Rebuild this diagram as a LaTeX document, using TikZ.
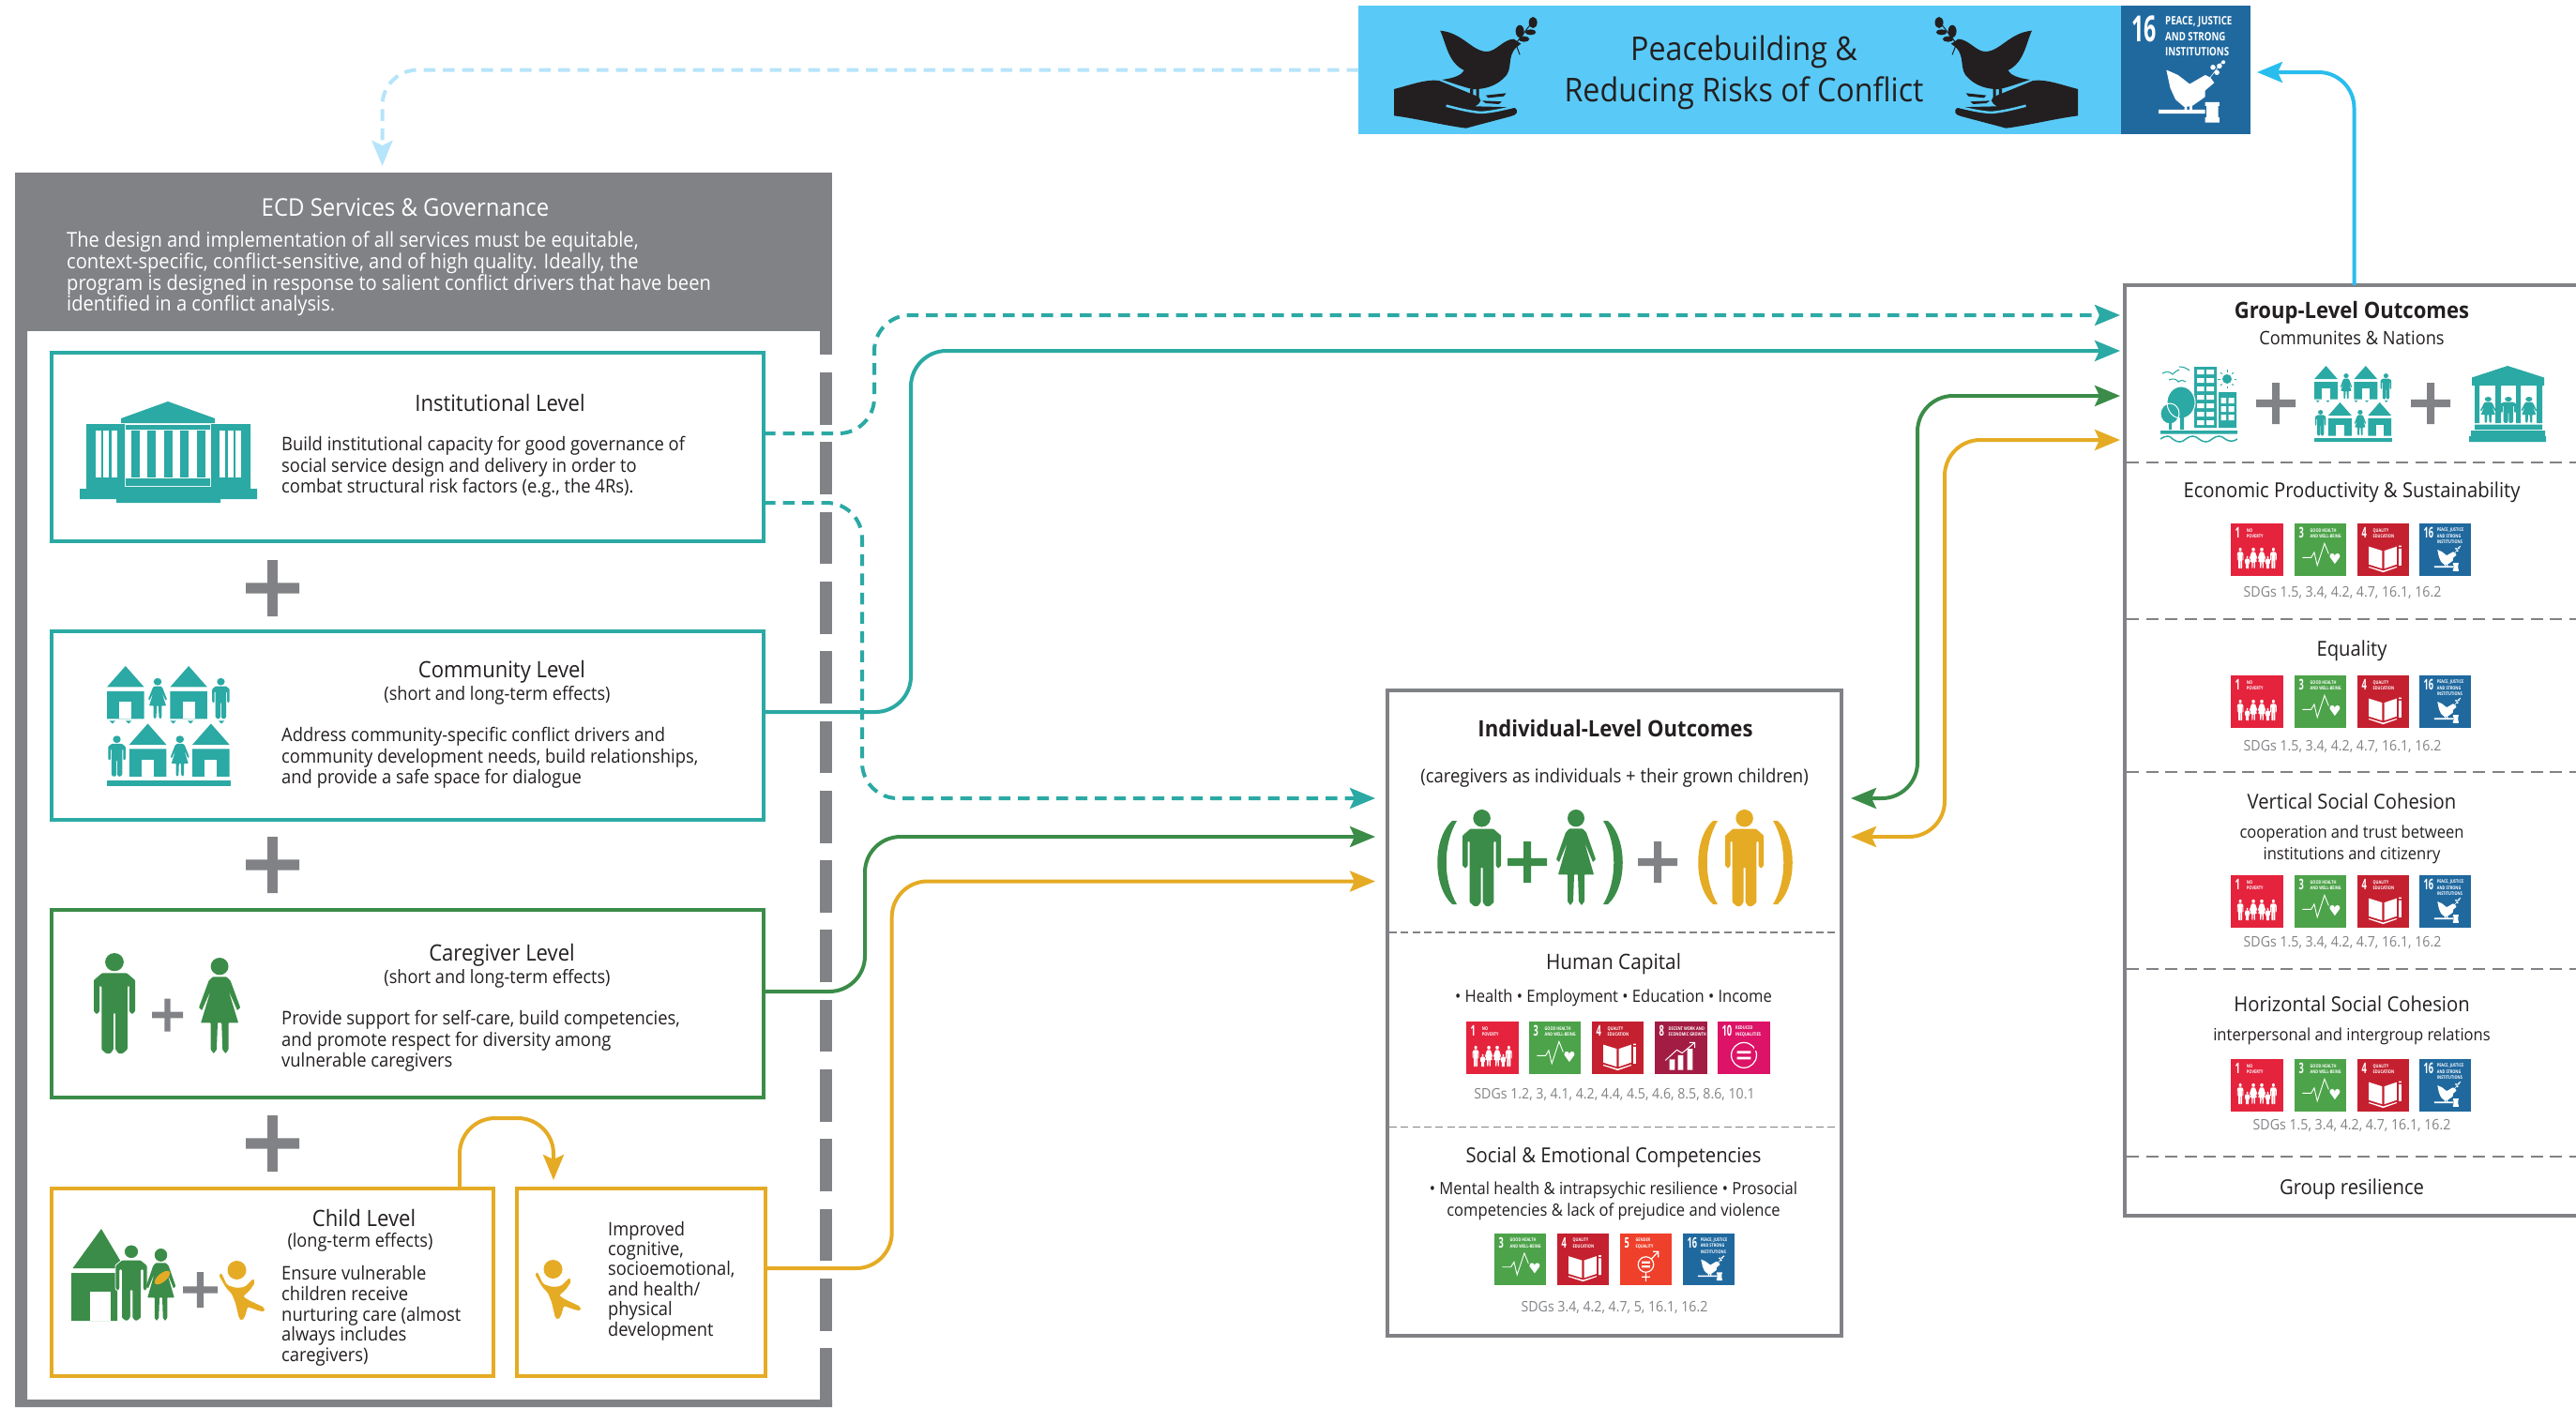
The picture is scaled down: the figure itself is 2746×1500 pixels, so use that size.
\documentclass[tikz,border=0pt]{standalone}
\usepackage{fontspec}
\setmainfont{Open Sans}[FakeStretch=0.92]
\newfontfamily\sdgfont{Open Sans}[FakeStretch=0.6]
\newfontfamily\sdgcapfont{Open Sans}[FakeStretch=0.78]
\usetikzlibrary{arrows.meta,positioning,calc}
\definecolor{ink}{HTML}{231F20}
\definecolor{frame}{HTML}{808285}
\definecolor{tealc}{HTML}{2BA9A4}
\definecolor{greenc}{HTML}{3B8C48}
\definecolor{yellowc}{HTML}{E5AB24}
\definecolor{sky}{HTML}{59CAF7}
\definecolor{skyline}{HTML}{29BDEE}
\definecolor{skypale}{HTML}{B6E4FA}
\definecolor{sdgone}{HTML}{E5233D}
\definecolor{sdgthree}{HTML}{4DA34A}
\definecolor{sdgfour}{HTML}{C5202F}
\definecolor{sdgfive}{HTML}{EF402B}
\definecolor{sdgeight}{HTML}{A21C44}
\definecolor{sdgten}{HTML}{DD1367}
\definecolor{sdgsixteen}{HTML}{20699F}
\tikzset{
 every pic/.style={transform shape},
 pics/man/.style={code={
  \fill[#1] (20,9) circle[radius=9];
  \fill[#1,rounded corners=.8pt] (8,20) -- (32,20) -- (40,27) -- (40,58) -- (37,61) -- (34.5,58) -- (34.5,33) -- (32.5,33) -- (32.5,96) -- (28,100) -- (24,100) -- (21,96) -- (21,60) -- (19,60) -- (19,96) -- (16,100) -- (12,100) -- (7.5,96) -- (7.5,33) -- (5.5,33) -- (5.5,58) -- (3,61) -- (0,58) -- (0,27) -- cycle;
 }},
 pics/woman/.style={code={
  \fill[#1] (22,9) circle[radius=9];
  \fill[#1,rounded corners=.6pt] (15,20) -- (29,20) -- (33,24) -- (43,52) -- (40,55) -- (31,34) -- (41,68) -- (31,68) -- (31,96) -- (28,100) -- (25,96) -- (24,68) -- (20,68) -- (19,96) -- (16,100) -- (13,96) -- (13,68) -- (3,68) -- (13,34) -- (4,55) -- (1,52) -- (11,24) -- cycle;
 }},
 pics/kid/.style={code={
  \fill[#1] (19.5,10) circle[radius=10];
  \fill[#1,rounded corners=2pt] (0,15) -- (3,13) -- (9,26) -- (19,29) -- (28,28) -- (37,19) -- (39,23) -- (33,32) -- (26,38) -- (32,42) -- (49,50) -- (49,54) -- (45,54) -- (31,49) -- (28,60) -- (25,64) -- (22,62) -- (18,45) -- (14,35) -- (8,29) -- cycle;
 }},
 pics/plus/.style={code={
  \fill[#1] (-9.5,-50) rectangle (9.5,50) (-50,-9.5) rectangle (50,9.5);
 }},
 pics/paren/.style={code={
  \fill[#1] (16,0) -- (21,0) .. controls (6,25) and (6,64) .. (21,89) -- (16,89) .. controls (-5,70) and (-5,19) .. (16,0) -- cycle;
 }},
 pics/hut/.style={code={
  \fill[#1] (0,17.5) -- (15,0) -- (30,17.5) -- cycle (0,21) rectangle (30,44);
  \fill[white] (10,44) -- (10,30) -- (20,30) -- (20,44) -- cycle;
 }},
 pics/hamlet/.style={code={
  \pic at (0,0) {hut=#1};
  \pic[xscale=.36,yscale=.34] at (33,10) {woman=#1};
  \pic at (51,0) {hut=#1};
  \pic[xscale=.35,yscale=.34] at (85,10) {man=#1};
  \pic[xscale=.35,yscale=.34] at (1,58) {man=#1};
  \pic at (18,48) {hut=#1};
  \pic[xscale=.36,yscale=.34] at (51,58) {woman=#1};
  \pic at (69,48) {hut=#1};
  \foreach \tx in {2,15,51,65,90} \fill[#1] (\tx,45.5) -- (\tx+5,45.5) -- (\tx+2.5,48) -- cycle;
  \fill[#1] (0,95) rectangle (100,100);
 }},
 pics/dove/.style={code={
  \fill[#1] (212,98) .. controls (250,105) and (265,165) .. (290,165) .. controls (305,165) and (318,125) .. (335,125) -- (347,140) -- (340,150) .. controls (322,180) and (335,225) .. (318,250) .. controls (305,275) and (285,287) .. (265,285) .. controls (245,275) and (232,265) .. (215,255) .. controls (235,250) and (248,240) .. (252,225) .. controls (225,200) and (222,140) .. (212,98) -- cycle;
  \fill[#1] (262,285) rectangle (267,312) (272,285) rectangle (277,312);
  \fill[#1] (135,285) .. controls (165,270) and (190,252) .. (210,258) -- (270,305) .. controls (285,315) and (280,330) .. (270,340) -- (335,343) .. controls (345,355) and (340,368) .. (330,372) -- (255,410) .. controls (215,400) and (175,380) .. (135,370) -- cycle;
  \draw[sky,line width=2.5pt] (222,338) .. controls (245,350) and (265,358) .. (280,360) .. controls (300,358) and (320,348) .. (338,340);
  \fill[#1] (288,305) -- (322,298) -- (318,308) -- (292,313) -- cycle (282,322) -- (315,325) -- (310,333) -- (288,330) -- cycle;
  \draw[#1,line width=1pt] (345,175) -- (338,140) -- (362,80);
  \fill[#1] (345,100) ellipse[x radius=7,y radius=20] (367,72) ellipse[x radius=7,y radius=18] (363,103) circle[radius=9] (352,125) circle[radius=9];
 }},
 pics/tilehead/.style n args={3}{code={
  \fill[#1] (0,0) rectangle (100,100);
  \node[inner sep=0mm, text=white, anchor=west, font=\sdgfont\bfseries\fontsize{28}{28}\selectfont, transform shape] (num) at (8,18) {#2};
  \node[inner sep=0mm, text=white, anchor=west, align=left, font=\sdgcapfont\bfseries\fontsize{9}{12}\selectfont, transform shape] (cap) at (\ifnum#2>9 34\else\ifnum#2=8 26\else 30\fi\fi,\ifnum#2=16 24\else 19\fi) {#3};
 }},
 pics/sdgno/.style={code={
  \pic (head) {tilehead={sdgone}{1}{NO\\POVERTY}};
  \foreach \fx/\fw in {12/.3,75/.3} \pic[xscale=\fw,yscale=.4] at (\fx,46) {man=white};
  \foreach \fx in {35,51} \pic[xscale=.36,yscale=.4] at (\fx,46) {woman=white};
  \foreach \fx in {27,66} \pic[xscale=.22,yscale=.24] at (\fx,62) {man=white};
 }},
 pics/sdghealth/.style={code={
  \pic (head) {tilehead={sdgthree}{3}{GOOD HEALTH\\AND WELL-BEING}};
  \draw[white,line width=.9pt] (15,65) -- (32,65) -- (38,55) -- (44,80) -- (58,38) -- (66,58);
  \fill[white] (73,62) circle[radius=5] (83,62) circle[radius=5] (68.5,64) -- (87.5,64) -- (78,77) -- cycle;
 }},
 pics/sdgedu/.style={code={
  \pic (head) {tilehead={sdgfour}{4}{QUALITY\\EDUCATION}};
  \fill[white] (22,44) -- (48,52) -- (48,86) -- (22,78) -- cycle (52,52) -- (76,44) -- (76,78) -- (52,86) -- cycle (22,82) -- (50,90) -- (76,82) -- (76,84) -- (50,93) -- (22,84) -- cycle (80,48) rectangle (85,80) (80,42) rectangle (85,45);
 }},
 pics/sdggender/.style={code={
  \pic (head) {tilehead={sdgfive}{5}{GENDER\\EQUALITY}};
  \draw[white,line width=1.2pt] (50,60) circle[radius=15] (50,75) -- (50,93) (42,84) -- (58,84) (61,49) -- (74,35) (64,35) -- (74,35) -- (74,46);
  \fill[white] (42,54) rectangle (58,58) (42,62) rectangle (58,66);
 }},
 pics/sdgwork/.style={code={
  \pic (head) {tilehead={sdgeight}{8}{DECENT WORK AND\\ECONOMIC GROWTH}};
  \fill[white] (28,72) rectangle (38,92) (44,64) rectangle (54,92) (62,52) rectangle (72,92);
  \draw[white,line width=1pt] (20,74) -- (42,54) -- (52,60) -- (76,40) (66,40) -- (76,40) -- (76,50);
 }},
 pics/sdgineq/.style={code={
  \pic (head) {tilehead={sdgten}{10}{REDUCED\\INEQUALITIES}};
  \draw[white,line width=1.2pt] (50,64) circle[radius=24];
  \fill[sdgten] (70,46) rectangle (80,56);
  \fill[white] (37,56) rectangle (63,61) (37,67) rectangle (63,72);
 }},
 pics/sdgpeace/.style={code={
  \pic (head) {tilehead={sdgsixteen}{16}{PEACE, JUSTICE\\AND STRONG\\INSTITUTIONS}};
  \fill[white,rounded corners=.5pt] (35,50) -- (44,54) -- (53,61) -- (65,54) -- (69,56) -- (72,60) -- (65,66) -- (65,71) -- (55,78) -- (49,79) -- (42,73) -- (38,64) -- cycle (49,79) rectangle (51,83) (53,78) rectangle (55,83);
  \draw[white,line width=.6pt] (68,57) -- (78,44);
  \fill[white] (74,52) circle[radius=2] (76,47) circle[radius=2] (71,48) circle[radius=2] (79,44) circle[radius=1.5];
  \fill[white] (29,81) rectangle (65,84) (65,75) rectangle (76,78) (66,78) rectangle (75,87) (65,87) rectangle (76,91);
 }}
}
\begin{document}
\begin{tikzpicture}[x=1pt,y=-1pt]
 	\tikzstyle{lvlbox}=[rectangle, anchor=north west, inner sep=0mm, outer sep=0mm, line width=4pt]
 	\tikzstyle{panel}=[rectangle, anchor=north west, inner sep=0mm, outer sep=0mm, line width=4pt, draw=frame]
 	\tikzstyle{connect}=[-{Stealth[length=27pt,width=22pt,inset=5pt]}, line width=4pt, rounded corners=38pt]
 	\tikzstyle{connectboth}=[{Stealth[length=27pt,width=22pt,inset=5pt]}-{Stealth[length=27pt,width=22pt,inset=5pt]}, line width=4pt, rounded corners=38pt]
 	\tikzstyle{dashline}=[dash pattern=on 12.5pt off 8pt]
 	\tikzstyle{txt}=[inner sep=0mm, text=ink, align=center]
 	\tikzstyle{lvltitle}=[txt, font=\fontsize{24}{26}\selectfont]
 	\tikzstyle{lvlsub}=[txt, font=\fontsize{19.7}{22}\selectfont]
 	\tikzstyle{lvltext}=[inner sep=0mm, text=ink, align=left, anchor=west, font=\fontsize{20}{22.7}\selectfont]
 	\tikzstyle{outtitle}=[txt, font=\fontsize{22}{26}\selectfont]
 	\tikzstyle{outtext}=[txt, font=\fontsize{18}{23}\selectfont]
 	\tikzstyle{sdglabel}=[inner sep=0mm, text=frame, font=\fontsize{15.4}{18}\selectfont]
 	\tikzstyle{divider}=[draw=frame, line width=2.4pt, dash pattern=on 13pt off 7.5pt]
 	\useasboundingbox (0,0) rectangle (2746,1500);
 	% left frame
 	\node[lvlbox, fill=frame, minimum width=871, minimum height=169] (ecd) at (16,184) {};
 	\fill[frame] (16,353) rectangle (29,1500) (16,1492) rectangle (887,1500);
 	\draw[frame, line width=13pt, dash pattern=on 55.7pt off 18.6pt] (880.5,322.7) -- (880.5,1494);
 	\node[txt, text=white, font=\fontsize{26}{28}\selectfont] (ecdtitle) at (432,221) {ECD Services \& Governance};
 	\node[lvltext, text=white, font=\fontsize{21.9}{22.7}\selectfont] (ecdtext) at (71,292) {The design and implementation of all services must be equitable,\\context-specific, conflict-sensitive, and of high quality. Ideally, the\\program is designed in response to salient conflict drivers that have been\\identified in a conflict analysis.};
 	% level boxes
 	\node[lvlbox, draw=tealc, minimum width=759, minimum height=201] (inst) at (55,376) {};
 	\node[lvlbox, draw=tealc, minimum width=759, minimum height=201] (comm) at (55,673) {};
 	\node[lvlbox, draw=greenc, minimum width=759, minimum height=200] (care) at (55,970) {};
 	\node[lvlbox, draw=yellowc, minimum width=471, minimum height=200] (child) at (55,1267) {};
 	\node[lvlbox, draw=yellowc, minimum width=265, minimum height=200] (improved) at (551,1267) {};
 	\foreach \py in {627,922,1219} \pic[xscale=.57,yscale=.6] at (290.5,\py) {plus=frame};
 	\node[lvltitle] (insttitle) at (533,429) {Institutional Level};
 	\node[lvltext] (insttext) at (300,498) {Build institutional capacity for good governance of\\social service design and delivery in order to\\combat structural risk factors (e.g., the 4Rs).};
 	\node[lvltitle] (commtitle) at (535,716) {Community Level};
 	\node[lvlsub] (commsub) [below=3pt of commtitle, xshift=-5pt] {(short and long-term effects)};
 	\node[lvltext] (commtext) at (300,808) {Address community-specific conflict drivers and\\community development needs, build relationships,\\and provide a safe space for dialogue};
 	\node[lvltitle] (caretitle) at (535,1018) {Caregiver Level};
 	\node[lvlsub] (caresub) [below=3pt of caretitle, xshift=-5pt] {(short and long-term effects)};
 	\node[lvltext] (caretext) at (300,1110) {Provide support for self-care, build competencies,\\and promote respect for diversity among\\vulnerable caregivers};
 	\node[lvltitle] (childtitle) at (388,1298) {Child Level};
 	\node[lvlsub] (childsub) [below=7pt of childtitle, xshift=-4pt] {(long-term effects)};
 	\node[lvltext, font=\fontsize{20}{21.7}\selectfont] (childtext) at (300,1403) {Ensure vulnerable\\children receive\\nurturing care (almost\\always includes\\caregivers)};
 	\node[lvltext, font=\fontsize{19.9}{21.4}\selectfont] (improvedtext) at (648,1365.5) {Improved\\cognitive,\\socioemotional,\\and health/\\physical\\development};
 	% level icons
 	\fill[tealc] (85,521) rectangle (274,532) (92,452) rectangle (133,521) (225,452) rectangle (267,521) (129,446) -- (179,428) -- (229,446) -- (229,451) -- (129,451) -- cycle (134,453) rectangle (224,458) (134,510) rectangle (224,518) (129,519) rectangle (229,527) (124,528) rectangle (235,536);
 	\foreach \cx in {139.5,157,175,192,210} \fill[tealc] (\cx,459) rectangle (\cx+9,509);
 	\foreach \wx in {102,110,119,234,243,251} \fill[white] (\wx,459) rectangle (\wx+5.5,509);
 	\pic[xscale=1.32,yscale=1.28] at (114,710) {hamlet=tealc};
 	\pic[xscale=1.1,yscale=1.07] at (100,1016) {man=greenc};
 	\pic[xscale=.33,yscale=.35] at (178.5,1082) {plus=frame};
 	\pic[xscale=1.05,yscale=1.02] at (211,1021) {woman=greenc};
 	\fill[greenc] (77.5,1352) -- (108,1310) -- (133,1352) -- cycle (76,1357) rectangle (125,1408);
 	\fill[white] (96,1408) -- (96,1377) -- (118,1377) -- (118,1408) -- cycle;
 	\pic[xscale=.85,yscale=.81] at (123,1327) {man={greenc,draw=white,line width=.8pt}};
 	\pic[xscale=.75,yscale=.77] at (155,1331) {woman=greenc};
 	\fill[yellowc, rotate around={40:(173,1362)}] (173,1362) ellipse[x radius=10,y radius=4.5];
 	\pic[xscale=.37,yscale=.38] at (213.5,1375) {plus=frame};
 	\pic at (233,1344) {kid=yellowc};
 	\pic at (570,1343) {kid=yellowc};
 	% banner
 	\node[lvlbox, fill=sky, minimum width=813, minimum height=137] (banner) at (1448,6) {};
 	\pic[xscale=.638,yscale=.3333] at (1400,0) {dove=ink};
 	\pic[xscale=-.638,yscale=.3333] at (2301.2,0) {dove=ink};
 	\node[txt, font=\fontsize{35}{44}\selectfont] (bannertext) at (1859,77) {Peacebuilding \&\\Reducing Risks of Conflict};
 	\node[lvlbox, minimum width=138, minimum height=137] (goal) at (2261,6) {};
 	\pic (goalpic) [xscale=1.38,yscale=1.37] at (2261,6) {sdgpeace};
 	% individual outcomes
 	\node[panel, minimum width=484, minimum height=688.5] (indiv) at (1479,735.5) {};
 	\node[outtitle, font=\fontsize{24}{26}\selectfont\bfseries] (indivtitle) at (1722,776) {Individual-Level Outcomes};
 	\node[outtext, font=\fontsize{20.1}{23}\selectfont] (indivsub) at (1721,829.5) {(caregivers as individuals + their grown children)};
 	\pic at (1532,875) {paren=greenc};
 	\pic[xscale=-1] at (1730,875) {paren=greenc};
 	\pic[xscale=1.03,yscale=1.03] at (1559,863) {man=greenc};
 	\pic[xscale=.42,yscale=.44] at (1628,919) {plus=greenc};
 	\pic[xscale=1,yscale=1.02] at (1658,863) {woman=greenc};
 	\pic[xscale=.42,yscale=.44] at (1767,919) {plus=frame};
 	\pic at (1810,875) {paren=yellowc};
 	\pic[xscale=-1] at (1911,875) {paren=yellowc};
 	\pic[xscale=1.03,yscale=1.03] at (1839,863) {man=yellowc};
 	\draw[divider, line width=1.6pt, dash pattern=on 8pt off 4.3pt] (1481,994) -- (1961,994);
 	\draw[divider, line width=1.6pt, dash pattern=on 8pt off 4.3pt] (1481,1201.6) -- (1961,1201.6);
 	\node[outtitle, font=\fontsize{22.6}{26}\selectfont] (capital) at (1720,1028) {Human Capital};
 	\node[outtext] (capitallist) at (1720,1064) {• Health • Employment • Education • Income};
 	\pic (capa) [xscale=.56,yscale=.56] at (1563,1089) {sdgno};
 	\pic (capb) [xscale=.55,yscale=.56] at (1630,1089) {sdghealth};
 	\pic (capc) [xscale=.55,yscale=.56] at (1697,1089) {sdgedu};
 	\pic (capd) [xscale=.56,yscale=.56] at (1764,1089) {sdgwork};
 	\pic (cape) [xscale=.56,yscale=.56] at (1831,1089) {sdgineq};
 	\node[sdglabel] (capitalsdg) at (1721,1167) {SDGs 1.2, 3, 4.1, 4.2, 4.4, 4.5, 4.6, 8.5, 8.6, 10.1};
 	\node[outtitle] (social) at (1720,1234) {Social \& Emotional Competencies};
 	\node[outtext] (sociallist) at (1720,1280) {• Mental health \& intrapsychic resilience • Prosocial\\competencies \& lack of prejudice and violence};
 	\pic (soca) [xscale=.55,yscale=.55] at (1593,1315) {sdghealth};
 	\pic (socb) [xscale=.55,yscale=.55] at (1660,1315) {sdgedu};
 	\pic (socc) [xscale=.55,yscale=.55] at (1727,1315) {sdggender};
 	\pic (socd) [xscale=.55,yscale=.55] at (1794,1315) {sdgpeace};
 	\node[sdglabel] (socialsdg) at (1721,1393.5) {SDGs 3.4, 4.2, 4.7, 5, 16.1, 16.2};
 	% group outcomes
 	\node[panel, minimum width=485, minimum height=992] (group) at (2265,304) {};
 	\node[outtitle, font=\fontsize{24}{26}\selectfont\bfseries] (grouptitle) at (2507,333) {Group-Level Outcomes};
 	\node[outtext, font=\fontsize{19.8}{23}\selectfont] (groupsub) at (2507,360) {Communites \& Nations};
 	\fill[tealc] (2339,391) rectangle (2363,456) (2365,418) rectangle (2384,456) (2303,459) rectangle (2385,462.5);
 	\foreach \wy in {394,403,412,421,430,439,448} \fill[white] (2342,\wy) rectangle (2349.5,\wy+5) (2352,\wy) rectangle (2360,\wy+5);
 	\foreach \wy in {424,433,442} \fill[white] (2367.5,\wy) rectangle (2373,\wy+6) (2375.5,\wy) rectangle (2381.5,\wy+6);
 	\filldraw[fill=tealc, draw=white, line width=1pt] (2325,429) ellipse[x radius=15,y radius=17] (2313,441) ellipse[x radius=10,y radius=11];
 	\fill[tealc] (2312,445) rectangle (2315,458) (2324,440) rectangle (2328,458);
 	\fill[tealc] (2374,404) circle[radius=5];
 	\foreach \ra in {0,45,...,315} \draw[tealc, line width=.8pt] ($(2374,404)+(\ra:7.5)$) -- ($(2374,404)+(\ra:10)$);
 	\draw[tealc, line width=1.5pt] (2303,468) .. controls (2309,464) and (2313,464) .. (2316,468) .. controls (2321,472) and (2326,472) .. (2330,468) .. controls (2335,464) and (2340,464) .. (2344,468) .. controls (2349,472) and (2354,472) .. (2358,468) .. controls (2363,464) and (2368,464) .. (2372,468) .. controls (2376,471) and (2381,471) .. (2385,468);
 	\draw[tealc, line width=1.1pt] (2305,398) .. controls (2310,395) and (2314,397) .. (2316,399) .. controls (2318,397) and (2320,395) .. (2323,394) (2323,391) .. controls (2327,391) and (2330,392) .. (2334,395) (2312,405) .. controls (2316,403) and (2320,404) .. (2322,407) .. controls (2325,405) and (2328,405) .. (2330,407);
 	\pic[xscale=.42,yscale=.44] at (2426,430) {plus=frame};
 	\pic[xscale=.83,yscale=.81] at (2467,390) {hamlet=tealc};
 	\pic[xscale=.42,yscale=.44] at (2591,430) {plus=frame};
 	\fill[tealc] (2635,402.5) -- (2673,390) -- (2712,402.5) -- (2712,411) -- (2635,411) -- cycle (2638,411) rectangle (2643,451) (2660,411) rectangle (2666,451) (2682,411) rectangle (2687,451) (2704,411) rectangle (2710,451) (2638,452.5) rectangle (2710,458) (2634,459) rectangle (2713,465) (2632,465) rectangle (2714,471);
 	\pic[xscale=.4,yscale=.28] at (2643.5,423) {woman=tealc};
 	\pic[xscale=.42,yscale=.28] at (2665.5,423) {man=tealc};
 	\pic[xscale=.4,yscale=.28] at (2687,423) {woman=tealc};
 	\node[outtitle] (econ) at (2507,525) {Economic Productivity \& Sustainability};
 	\node[outtitle] (equal) at (2507,694) {Equality};
 	\node[outtitle] (vert) at (2507,854) {Vertical Social Cohesion};
 	\node[outtext] (verttext) at (2507,900.5) {cooperation and trust between\\institutions and citizenry};
 	\node[outtitle] (horiz) at (2507,1070) {Horizontal Social Cohesion};
 	\node[outtext] (horiztext) at (2507,1105) {interpersonal and intergroup relations};
 	\node[outtitle] (resil) at (2507,1268) {Group resilience};
 	\foreach \rowy/\rowname in {558/econrow,720/equalrow,933/vertrow,1129/horizrow} {
 		\pic (\rowname a) [xscale=.56,yscale=.56] at (2378,\rowy) {sdgno};
 		\pic (\rowname b) [xscale=.55,yscale=.56] at (2446,\rowy) {sdghealth};
 		\pic (\rowname c) [xscale=.55,yscale=.56] at (2513,\rowy) {sdgedu};
 		\pic (\rowname d) [xscale=.55,yscale=.56] at (2579,\rowy) {sdgpeace};
 	}
 	\node[sdglabel] (econsdg) at (2497,632) {SDGs 1.5, 3.4, 4.2, 4.7, 16.1, 16.2};
 	\node[sdglabel] (equalsdg) at (2497,796) {SDGs 1.5, 3.4, 4.2, 4.7, 16.1, 16.2};
 	\node[sdglabel] (vertsdg) at (2497,1005) {SDGs 1.5, 3.4, 4.2, 4.7, 16.1, 16.2};
 	\node[sdglabel] (horizsdg) at (2507,1200) {SDGs 1.5, 3.4, 4.2, 4.7, 16.1, 16.2};
 	\foreach \dy in {493,660,823,1033,1233} \draw[divider] (2267,\dy) -- (2748,\dy);
 	% connectors
 	\draw[connect, skypale, dashline] (banner.west) -| ([xshift=-44pt,yshift=7pt]ecd.north);
 	\draw[connect, skyline] ([xshift=2pt]group.north) |- ([xshift=7pt,yshift=-2.5pt]goal.east);
 	\draw[connect, tealc, dashline] ([yshift=14.5pt]inst.east) -- ++(118,0) |- ([xshift=-5pt,yshift=464pt]group.west);
 	\draw[connect, tealc] ([yshift=14.5pt]comm.east) -- ++(157,0) |- ([xshift=-5pt,yshift=426pt]group.west);
 	\draw[connect, tealc, dashline] ([yshift=-59.5pt]inst.east) -- ++(105,0) |- ([xshift=-13pt,yshift=228.75pt]indiv.west);
 	\draw[connect, greenc] ([yshift=13pt]care.east) -- ++(108,0) |- ([xshift=-13pt,yshift=187.75pt]indiv.west);
 	\draw[connect, yellowc] ([yshift=15pt]improved.east) -- ++(134.7,0) |- ([xshift=-13pt,yshift=140.25pt]indiv.west);
 	\draw[connectboth, greenc] ([xshift=-5pt,yshift=378pt]group.west) -- ++(-216,0) |- ([xshift=10pt,yshift=228.75pt]indiv.east);
 	\draw[connectboth, yellowc] ([xshift=-5pt,yshift=331pt]group.west) -- ++(-187,0) |- ([xshift=10pt,yshift=187.75pt]indiv.east);
 	\draw[connect, yellowc] ([xshift=199.5pt]child.north) -- ++(0,-75) -| ([xshift=-93.5pt,yshift=9pt]improved.north);
\end{tikzpicture}
\end{document}
